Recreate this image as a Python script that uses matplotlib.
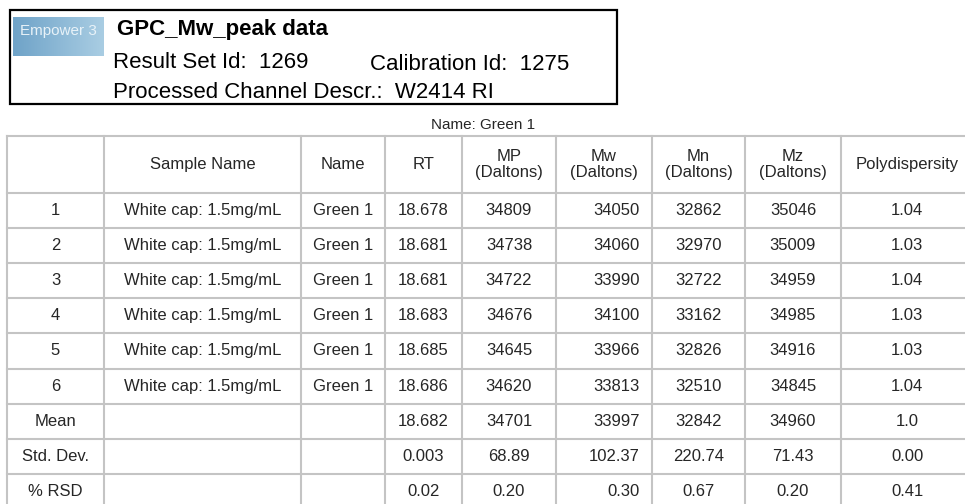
import numpy as np
import matplotlib
matplotlib.use("Agg")
import matplotlib.pyplot as plt
from matplotlib.patches import Rectangle

plt.rcParams["font.family"] = ["Liberation Sans", "DejaVu Sans"]

# header info
report_title = "GPC_Mw_peak data"
result_set_id = "1269"
calibration_id = "1275"
channel_descr = "W2414 RI"
peak_name = "Green 1"

# table contents
col_headers = ["", "Sample Name", "Name", "RT", "MP\n(Daltons)", "Mw\n(Daltons)",
               "Mn\n(Daltons)", "Mz\n(Daltons)", "Polydispersity"]
row_labels = ["1", "2", "3", "4", "5", "6", "Mean", "Std. Dev.", "% RSD"]
sample_names = ["White cap: 1.5mg/mL"] * 6 + ["", "", ""]
names = ["Green 1"] * 6 + ["", "", ""]
rt = ["18.678", "18.681", "18.681", "18.683", "18.685", "18.686", "18.682", "0.003", "0.02"]
mp = ["34809", "34738", "34722", "34676", "34645", "34620", "34701", "68.89", "0.20"]
mw = ["34050", "34060", "33990", "34100", "33966", "33813", "33997", "102.37", "0.30"]
mn = ["32862", "32970", "32722", "33162", "32826", "32510", "32842", "220.74", "0.67"]
mz = ["35046", "35009", "34959", "34985", "34916", "34845", "34960", "71.43", "0.20"]
poly = ["1.04", "1.03", "1.04", "1.03", "1.03", "1.04", "1.0", "0.00", "0.41"]

columns = [row_labels, sample_names, names, rt, mp, mw, mn, mz, poly]

# layout in pixels
W, H = 965, 504
col_edges = [7, 104, 301, 385, 462, 556, 652, 745, 841, 975]
header_top, header_bot = 136, 193
row_h = 35.1
grid_c = "#c4c4c4"
txt_c = "#262626"

fig = plt.figure(figsize=(W / 100, H / 100), dpi=100)
ax = fig.add_axes([0, 0, 1, 1])
ax.set_xlim(0, W)
ax.set_ylim(H, 0)
ax.axis("off")

# report header box
ax.add_patch(Rectangle((10, 10), 607, 94, fill=False, edgecolor="black", lw=1.6))
grad = np.linspace(0, 1, 100).reshape(1, -1)
ax.imshow(grad, cmap=matplotlib.colors.LinearSegmentedColormap.from_list(
    "logo", ["#6fa3c8", "#a9cde3"]), extent=(13, 104, 56, 17), aspect="auto", zorder=1)
ax.text(58, 31, "Empower 3", color="#e8f2f8", fontsize=11, ha="center", va="center",
        zorder=2)
ax.text(117, 29, report_title, fontsize=16, fontweight="bold", va="center", color="black")
ax.text(113, 62, "Result Set Id:  " + result_set_id, fontsize=16, va="center", color="black")
ax.text(370, 64, "Calibration Id:  " + calibration_id, fontsize=16, va="center", color="black")
ax.text(113, 93, "Processed Channel Descr.:  " + channel_descr, fontsize=16, va="center",
        color="black")

ax.text(483, 125, "Name: " + peak_name, fontsize=11, ha="center", va="center", color=txt_c)

# grid
n_rows = len(row_labels)
row_edges = [header_top, header_bot] + [header_bot + row_h * (i + 1) for i in range(n_rows)]
for y in row_edges:
    ax.plot([col_edges[0], col_edges[-1]], [y, y], color=grid_c, lw=1.5)
for x in col_edges:
    ax.plot([x, x], [header_top, row_edges[-1]], color=grid_c, lw=1.5)

# header text
for j, h in enumerate(col_headers):
    cx = (col_edges[j] + col_edges[j + 1]) / 2
    if j == 8:
        cx = 907
    ax.text(cx, (header_top + header_bot) / 2, h, fontsize=12, ha="center", va="center",
            color=txt_c, linespacing=1.15)

# cells
for i in range(n_rows):
    cy = header_bot + row_h * (i + 0.5)
    for j, col in enumerate(columns):
        val = col[i]
        if j == 5:
            ax.text(col_edges[j + 1] - 12, cy, val, fontsize=12, ha="right", va="center",
                    color=txt_c)
        else:
            cx = (col_edges[j] + col_edges[j + 1]) / 2
            if j == 8:
                cx = 907
            ax.text(cx, cy, val, fontsize=12, ha="center", va="center", color=txt_c)

fig.savefig("out.png", dpi=100)
